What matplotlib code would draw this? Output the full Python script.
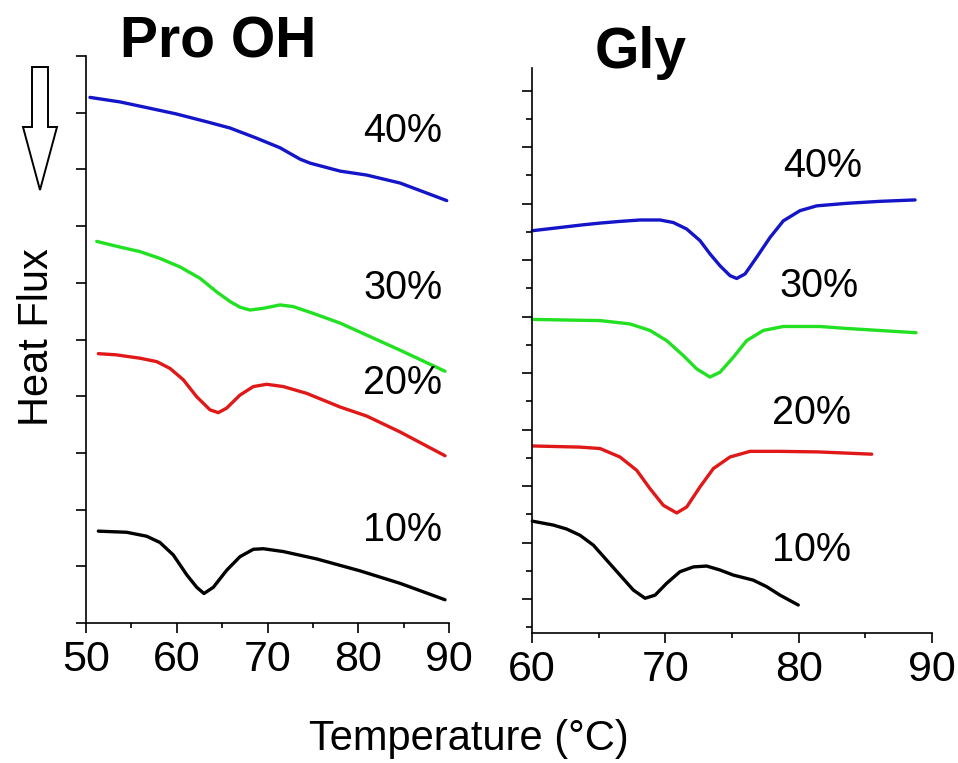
import numpy as np
import matplotlib
matplotlib.use("Agg")
from matplotlib import pyplot as plt
from matplotlib.patches import Polygon

plt.rcParams['font.family'] = ['Liberation Sans', 'DejaVu Sans']

# ---- Pro OH panel (temperature in C, heat flux in arbitrary units) ----
pro_t_10 = [51.36, 54.49, 56.69, 58.15, 59.62, 61.10, 62.20, 63.00, 64.03, 65.50,
            66.97, 68.44, 69.54, 71.74, 75.42, 80.19, 84.60, 89.56]
pro_hf_10 = [1.62, 1.60, 1.53, 1.42, 1.20, 0.85, 0.63, 0.52, 0.63, 0.93,
             1.17, 1.30, 1.31, 1.26, 1.13, 0.92, 0.70, 0.41]

pro_t_20 = [51.36, 53.30, 55.95, 57.79, 59.26, 60.72, 62.20, 63.66, 64.58, 65.50,
            66.97, 68.44, 69.91, 71.74, 74.32, 77.99, 80.93, 84.60, 89.56]
pro_hf_20 = [4.75, 4.73, 4.67, 4.61, 4.49, 4.29, 3.99, 3.76, 3.71, 3.79,
             4.02, 4.17, 4.21, 4.17, 4.05, 3.81, 3.65, 3.37, 2.95]

pro_t_30 = [51.18, 53.75, 55.95, 58.15, 60.36, 62.56, 64.40, 65.87, 66.97, 68.07,
            69.54, 71.38, 72.84, 75.05, 77.99, 84.63, 89.56]
pro_hf_30 = [6.73, 6.63, 6.55, 6.43, 6.28, 6.08, 5.84, 5.67, 5.57, 5.52,
             5.55, 5.61, 5.58, 5.46, 5.29, 4.81, 4.44]

pro_t_40 = [50.44, 53.75, 56.69, 59.90, 63.30, 65.87, 68.81, 71.40, 72.60, 73.60,
            74.70, 76.12, 78.00, 80.93, 84.60, 89.75]
pro_hf_40 = [9.27, 9.19, 9.09, 8.98, 8.84, 8.73, 8.55, 8.38, 8.27, 8.18,
             8.11, 8.05, 7.97, 7.90, 7.76, 7.45]

# ---- Gly panel ----
gly_t_10 = [60.02, 61.6, 62.6, 63.6, 64.6, 65.6, 66.6, 67.6, 68.48, 69.23,
            70.1, 71.1, 72.1, 73.1, 74.1, 75.1, 76.6, 77.6, 78.6, 79.97]
gly_hf_10 = [3.96, 3.82, 3.68, 3.46, 3.11, 2.58, 2.05, 1.52, 1.23, 1.34,
             1.76, 2.17, 2.34, 2.37, 2.23, 2.05, 1.87, 1.64, 1.34, 0.99]

gly_t_20 = [60.1, 63.6, 65.1, 66.6, 67.85, 68.85, 69.85, 70.85, 71.6, 72.6,
            73.6, 74.85, 76.35, 78.6, 81.47, 85.48]
gly_hf_20 = [6.62, 6.58, 6.53, 6.23, 5.76, 5.11, 4.52, 4.25, 4.46, 5.17,
             5.82, 6.23, 6.43, 6.43, 6.41, 6.33]

gly_t_30 = [60.02, 63.6, 65.1, 67.35, 68.85, 70.1, 71.35, 72.35, 73.35, 74.1,
            75.1, 76.1, 77.35, 78.85, 81.6, 83.6, 88.8]
gly_hf_30 = [11.10, 11.07, 11.06, 10.94, 10.71, 10.35, 9.82, 9.35, 9.06, 9.23,
             9.76, 10.35, 10.71, 10.85, 10.85, 10.78, 10.63]

gly_t_40 = [60.02, 63.85, 65.1, 66.6, 68.1, 69.6, 70.6, 71.6, 72.6, 73.35,
            74.1, 74.85, 75.35, 75.98, 76.85, 77.85, 78.85, 80.1, 81.35, 83.6,
            86.1, 88.73]
gly_hf_40 = [14.24, 14.45, 14.51, 14.57, 14.62, 14.62, 14.53, 14.30, 13.89, 13.42,
             13.00, 12.65, 12.55, 12.71, 13.30, 14.00, 14.59, 14.95, 15.12, 15.21,
             15.28, 15.33]

labels = ["10%", "20%", "30%", "40%"]
colors = ["black", "#e01818", "#22e022", "#1414c8"]

pro_series = [(pro_t_10, pro_hf_10), (pro_t_20, pro_hf_20),
              (pro_t_30, pro_hf_30), (pro_t_40, pro_hf_40)]
gly_series = [(gly_t_10, gly_hf_10), (gly_t_20, gly_hf_20),
              (gly_t_30, gly_hf_30), (gly_t_40, gly_hf_40)]

# label anchor points (data coords)
pro_label_pos = [(84.93, 1.64), (84.93, 4.23), (84.93, 5.91), (84.93, 8.68)]
gly_label_pos = [(80.93, 2.93), (81.0, 7.77), (81.53, 12.30), (81.83, 16.54)]

W, H = 958, 763
fig = plt.figure(figsize=(W / 100, H / 100), dpi=100)
ax1 = fig.add_axes([86 / W, 1 - 623 / H, 363 / W, 567 / H])
ax2 = fig.add_axes([532 / W, 1 - 633 / H, 400 / W, 565 / H])

for ax, series, pos in [(ax1, pro_series, pro_label_pos), (ax2, gly_series, gly_label_pos)]:
    for (t, hf), c, lab, p in zip(series, colors, labels, pos):
        ax.plot(t, hf, color=c, lw=2.4, solid_capstyle='round',
                solid_joinstyle='round', clip_on=False)
        ax.text(p[0], p[1], lab, fontsize=28.5, ha='center', va='center')
    for s in ['top', 'right']:
        ax.spines[s].set_visible(False)
    for s in ['left', 'bottom']:
        ax.spines[s].set_linewidth(1.2)
    ax.tick_params(axis='x', which='major', direction='out', length=7, width=1.2,
                   labelsize=31, pad=5)
    ax.tick_params(axis='x', which='minor', direction='out', length=3.5, width=1.2)

ax1.set_xlim(50, 90)
ax1.set_ylim(0, 10)
ax1.set_xticks([50, 60, 70, 80, 90])
ax1.set_xticks([55, 65, 75, 85], minor=True)
ax1.set_yticks(range(11))
ax1.set_yticklabels([])
ax1.tick_params(axis='y', direction='out', length=7, width=1.2)

ax2.set_xlim(60, 90)
ax2.set_ylim(0, 20)
ax2.set_xticks([60, 70, 80, 90])
ax2.set_xticks([65, 75, 85], minor=True)
ax2.set_yticks([1.2 + 2 * k for k in range(10)])
ax2.set_yticks([0.2 + 2 * k for k in range(10)], minor=True)
ax2.set_yticklabels([])
ax2.tick_params(axis='y', which='major', direction='out', length=7.5, width=1.2)
ax2.tick_params(axis='y', which='minor', direction='out', length=4, width=1.2)

# titles and axis labels
fig.text(218 / W, 1 - 57 / H, "Pro OH", fontsize=41, fontweight='bold',
         ha='center', va='baseline')
fig.text(641 / W, 1 - 68 / H, "Gly", fontsize=41, fontweight='bold',
         ha='center', va='baseline')
fig.text(469 / W, 1 - 750 / H, "Temperature (°C)", fontsize=30,
         ha='center', va='baseline')
fig.text(37 / W, 1 - 337 / H, "Heat Flux", fontsize=30, rotation=90,
         ha='center', va='center')

# hollow arrow pointing down
arrow_px = [(32, 67), (48, 67), (48, 127), (57, 127), (40, 190), (23, 127), (32, 127)]
arrow = Polygon([(x / W, 1 - y / H) for x, y in arrow_px], closed=True,
                facecolor='white', edgecolor='black', lw=1.4,
                transform=fig.transFigure)
fig.add_artist(arrow)

fig.savefig("out.png", dpi=100)
